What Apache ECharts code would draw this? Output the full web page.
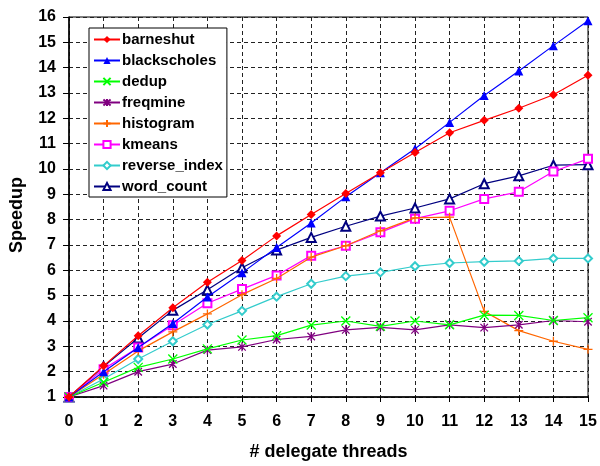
<!DOCTYPE html>
<html><head><meta charset="utf-8">
<script src="https://cdn.jsdelivr.net/npm/echarts@6/dist/echarts.min.js"></script>
<style>html,body{margin:0;padding:0;background:#fff}#c{width:600px;height:466px}</style>
</head><body><div id="c"></div>
<script>
const threads = [0,1,2,3,4,5,6,7,8,9,10,11,12,13,14,15];
const seriesNames = ['barneshut','blackscholes','dedup','freqmine','histogram','kmeans','reverse_index','word_count'];
const barneshut     = [1,2.23,3.42,4.52,5.53,6.39,7.36,8.2,9.03,9.85,10.65,11.43,11.92,12.4,12.93,13.7];
const blackscholes  = [1,2.0,2.95,3.9,4.95,5.9,6.9,7.87,8.9,9.85,10.8,11.84,12.9,13.87,14.87,15.85];
const dedup         = [1,1.58,2.17,2.5,2.9,3.25,3.42,3.84,4.0,3.79,4.0,3.85,4.23,4.22,4.02,4.13];
const freqmine      = [1,1.45,2.0,2.3,2.85,2.98,3.27,3.39,3.65,3.75,3.65,3.85,3.74,3.85,4.02,3.97];
const histogram     = [1,1.9,2.82,3.57,4.28,5.04,5.68,6.52,6.97,7.56,8.07,8.1,4.38,3.62,3.2,2.88];
const kmeans        = [1,2.1,2.95,3.83,4.7,5.26,5.8,6.58,6.97,7.5,8.04,8.35,8.82,9.1,9.9,10.4];
const reverse_index = [1,1.71,2.5,3.2,3.86,4.4,4.96,5.47,5.77,5.92,6.16,6.29,6.34,6.37,6.47,6.47];
const word_count    = [1,2.2,3.33,4.42,5.23,6.1,6.8,7.3,7.74,8.14,8.46,8.82,9.42,9.73,10.15,10.17];

const values = [barneshut,blackscholes,dedup,freqmine,histogram,kmeans,reverse_index,word_count];
const colors = ['#FF0000','#0000FF','#00FF00','#800080','#FF6600','#FF00FF','#33CCCC','#000080'];
const symbols = ['diamond','triangle','path://M0,0L10,10M10,0L0,10','path://M0,0L10,10M10,0L0,10M5,-1L5,11',
  'path://M5,0L5,10M0,5L10,5','emptyRect','emptyDiamond','emptyTriangle'];
const sizes = [9,9,9,9,9,8,8,9];
const FONT = 'Liberation Sans, Arial, sans-serif';

const series = seriesNames.map((n,i)=>({
  name:n, type:'line',
  data: threads.map((t,j)=>[t, values[i][j]]),
  symbol: symbols[i], symbolSize: sizes[i], symbolKeepAspect:true,
  showAllSymbol:true,
  lineStyle:{color:colors[i], width:1.2},
  itemStyle:{color:colors[i], borderColor:colors[i], borderWidth: (symbols[i].startsWith('path')?1.3:(symbols[i].startsWith('empty')?1.2:0))},
  emphasis:{disabled:true},
  animation:false,
  z: 10-i
}));

const chart = echarts.init(document.getElementById('c'));
chart.setOption({
  animation:false,
  color: colors,
  grid:{left:66.7, right:12, top:17, bottom:66, show:true, borderColor:'#000', borderWidth:1, backgroundColor:'transparent'},
  legend:{
    orient:'vertical', left:89, top:28,
    backgroundColor:'#fff', borderColor:'#000', borderWidth:1,
    padding:[4,4,3,4], itemGap:6, itemWidth:26, itemHeight:9,
    textStyle:{fontFamily:FONT, fontWeight:'bold', fontSize:15, color:'#000', padding:[0,0,0,-3]},
    data: seriesNames
  },
  xAxis:{
    type:'value', min:0, max:15, interval:1,
    name:'# delegate threads', nameLocation:'middle', nameGap:46,
    nameTextStyle:{fontFamily:FONT, fontWeight:'bold', fontSize:18, color:'#000'},
    axisLine:{show:true, lineStyle:{color:'#000', width:1.5}},
    axisTick:{show:true, length:5, lineStyle:{color:'#000'}},
    axisLabel:{fontFamily:FONT, fontWeight:'bold', fontSize:16, color:'#000', margin:17},
    splitLine:{show:true, lineStyle:{color:'#222', type:[4,3], width:1}}
  },
  yAxis:{
    type:'value', min:1, max:16, interval:1,
    name:'Speedup', nameLocation:'middle', nameGap:43,
    nameTextStyle:{fontFamily:FONT, fontWeight:'bold', fontSize:18, color:'#000', padding:[0,0,0,-16]},
    axisLine:{show:true, lineStyle:{color:'#000', width:1.5}},
    axisTick:{show:true, length:6, lineStyle:{color:'#000'}},
    axisLabel:{fontFamily:FONT, fontWeight:'bold', fontSize:16, color:'#000', margin:13},
    splitLine:{show:true, lineStyle:{color:'#222', type:[4,3], width:1}}
  },
  series: series
});
</script></body></html>
